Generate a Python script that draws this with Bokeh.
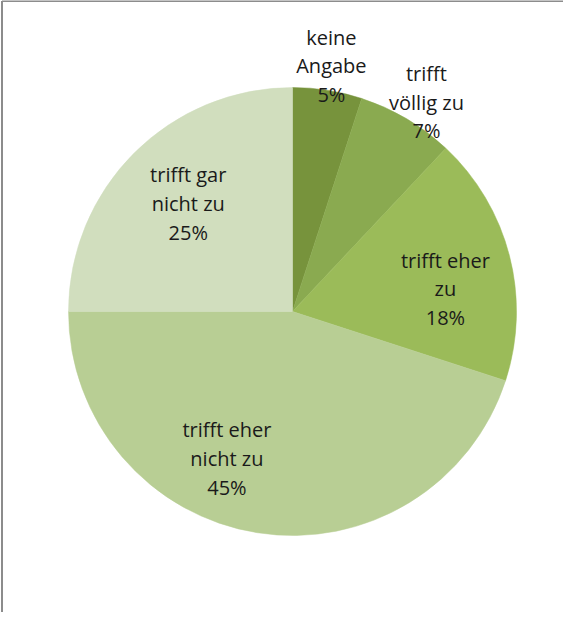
import math
from bokeh.plotting import figure
from bokeh.models import Range1d, ColumnDataSource
from bokeh.core.properties import value
from bokeh.embed import file_html
from bokeh.resources import INLINE

# ---- data ----
categories = ["keine\nAngabe", "trifft\nvöllig zu", "trifft eher\nzu", "trifft eher\nnicht zu", "trifft gar\nnicht zu"]
percents = [5, 7, 18, 45, 25]
colors = ["#77933c", "#8aaa50", "#9bbb59", "#b8ce94", "#d1debe"]

# ---- layout (label placement relative to radius, angle tweak in degrees) ----
label_rfac = [1.11, 1.11, 0.69, 0.72, 0.67]
label_dang = [0.0, 2.0, 6.0, 15.0, 1.0]

W, H = 563, 612
PAGE = 628
cx, cy_screen, R = 300, 319, 224
cy = PAGE - cy_screen

p = figure(width=W, height=H, output_backend="svg", toolbar_location=None,
           x_range=Range1d(8, 8 + W), y_range=Range1d(PAGE - 8 - H, PAGE - 8),
           min_border=0, outline_line_color=None)
p.axis.visible = False
p.grid.visible = False
p.background_fill_color = "white"
p.border_fill_color = "white"

total = sum(percents)
starts, ends, lx, ly, texts = [], [], [], [], []
cum = 0.0
for cat, v, rf, da in zip(categories, percents, label_rfac, label_dang):
    a0 = cum / total
    cum += v
    a1 = cum / total
    starts.append(math.pi / 2 - 2 * math.pi * a0)
    ends.append(math.pi / 2 - 2 * math.pi * a1)
    mid = (a0 + a1) / 2 * 360 + da  # clockwise degrees from top
    th = math.radians(mid)
    lx.append(cx + rf * R * math.sin(th))
    ly.append(cy + rf * R * math.cos(th))
    texts.append(f"{cat}\n{v}%")

src = ColumnDataSource(dict(start=starts, end=ends, color=colors,
                            x=[cx] * len(percents), y=[cy] * len(percents)))
p.wedge(x="x", y="y", radius=R, start_angle="start", end_angle="end",
        direction="clock", fill_color="color", line_color="color",
        line_width=0.5, source=src)

p.text(x=lx, y=ly, text=texts, text_align="center", text_baseline="middle",
       text_font=value("Open Sans"), text_font_size="20px",
       text_color="#1a1a1a", text_line_height=1.07)

# chart border (left and top edges visible in the crop)
p.line(x=[9.5, 9.5], y=[0, PAGE - 8.5], line_color="#8c8c8c", line_width=2)
p.line(x=[9.5, 600], y=[PAGE - 8.5, PAGE - 8.5], line_color="#8c8c8c", line_width=2)

open("out.html", "w").write(file_html(p, INLINE))
